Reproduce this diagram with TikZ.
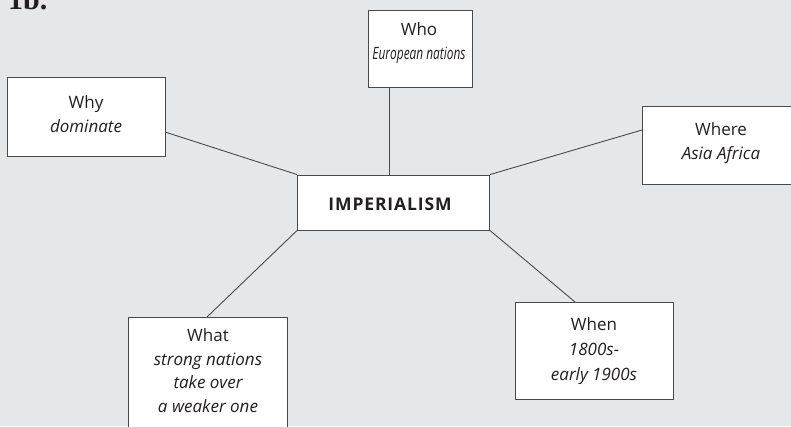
\documentclass[tikz,border=0pt]{standalone}
\usepackage{fontspec}
\setmainfont{Open Sans}
\newfontfamily\headfont{Liberation Serif}
\newfontfamily\boldspaced[LetterSpace=5]{Open Sans}
\definecolor{bg}{HTML}{E6E7E8}
\definecolor{edge}{HTML}{4A4A4A}
\definecolor{ink}{HTML}{231F20}
\begin{document}
\begin{tikzpicture}[x=1pt,y=-1pt,
  box/.style={draw=edge,line width=0.9pt,fill=white,rectangle,inner sep=0pt},
  txt/.style={align=center,text=ink,font=\fontsize{17}{24}\selectfont,inner sep=0pt},
  link/.style={draw=edge,line width=0.9pt}]
\clip (0,0) rectangle (791,426);
\fill[bg] (0,0) rectangle (791,426);
\node[anchor=base west,text=ink,inner sep=0pt,font=\headfont\bfseries\fontsize{30}{30}\selectfont] (lbl) at (8,9) {1b.};
% boxes
\node[box,minimum width=104pt,minimum height=77pt] (who) at (420,48.5) {};
\node[box,minimum width=158pt,minimum height=79pt] (why) at (86,116.5) {};
\node[box,minimum width=158pt,minimum height=78pt] (where) at (721,145) {};
\node[box,minimum width=192pt,minimum height=55pt] (imp) at (393.5,202.5) {};
\node[box,minimum width=159pt,minimum height=120pt] (what) at (207.5,377) {};
\node[box,minimum width=158pt,minimum height=97pt] (when) at (594,350.5) {};
% connectors
\coordinate (whyend) at (165,132);
\coordinate (whereend) at (642,130);
\coordinate (whatend) at (207,317);
\coordinate (whenend) at (575,302);
\coordinate (whobot) at (389,87);
\draw[link] (whobot) -- (imp.north -| whobot);
\draw[link] (whyend) -- (imp.north west);
\draw[link] (whereend) -- (imp.north east);
\draw[link] (whatend) -- (imp.south west);
\draw[link] (whenend) -- (imp.south east);
% texts
\node[txt] (whot) at (419,43) {Who\\\itshape\scalebox{0.7}[1]{European nations}};
\node[txt] (whyt) at (86,114) {Why\\\itshape dominate};
\node[txt] (wheret) at (721,143) {Where\\\itshape Asia Africa};
\node[txt,font=\boldspaced\bfseries\fontsize{17.5}{20}\selectfont] (impt) at (390,204) {IMPERIALISM};
\node[txt,font=\fontsize{17}{23.5}\selectfont] (whatt) at (208,370.5) {What\\\itshape strong nations\\\itshape take over\\\itshape a weaker one};
\node[txt,font=\fontsize{17}{25}\selectfont] (whent) at (594,351.5) {When\\\itshape 1800s-\\\itshape early 1900s};
\end{tikzpicture}
\end{document}
